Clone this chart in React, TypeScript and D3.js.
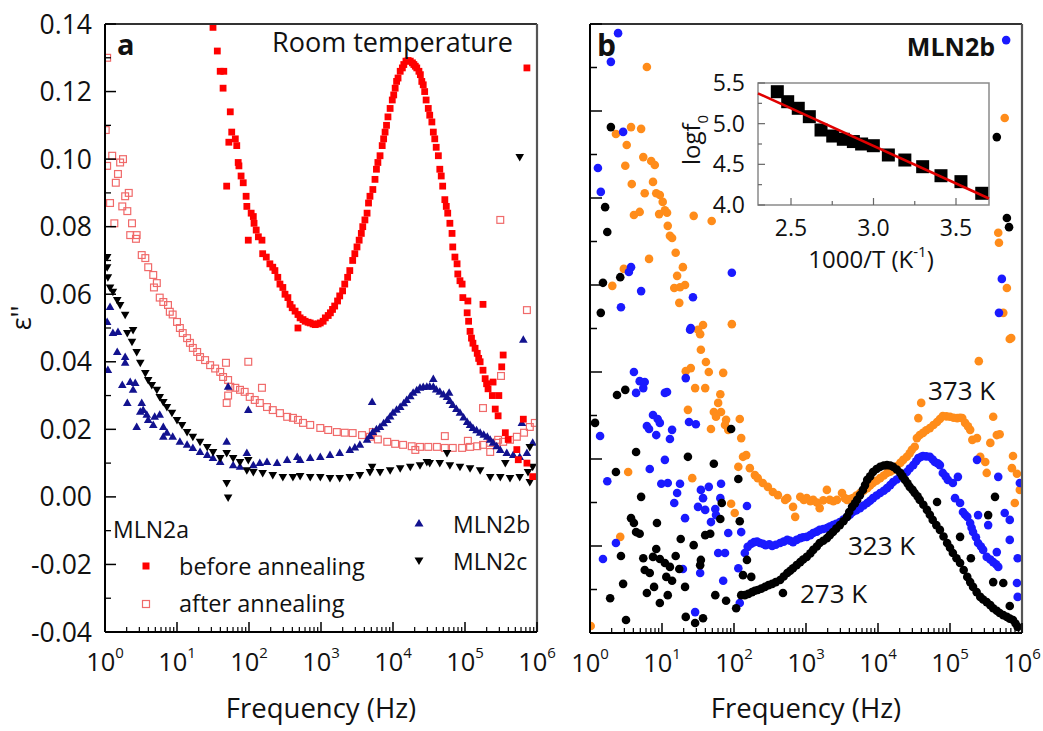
import React from "react";
import * as d3 from "d3";

// ---------- DATA (log10 frequency, value) ----------
const beforeAnnealing: [number, number][] = [
  [1.5,0.139],[1.56,0.132],[1.6,0.126],[1.65,0.126],[1.64,0.121],[1.74,0.114],[1.76,0.108],[1.72,0.105],[1.81,0.106],[1.83,0.104],[1.85,0.099],[1.86,0.098],[1.89,0.095],[1.92,0.093],[1.69,0.092],[1.96,0.089],[1.97,0.086],[2.03,0.084],[2.06,0.083],[2.07,0.081],[2.1,0.079],[2.13,0.077],[1.99,0.076],[2.18,0.076],[2.19,0.072],[2.24,0.071],[2.29,0.069],[2.33,0.068],[2.36,0.067],[2.4,0.065],[2.43,0.063],[2.47,0.062],[2.5,0.06],[2.54,0.059],[2.57,0.057],[2.6,0.056],[2.64,0.055],[2.68,0.054],[2.71,0.053],[2.75,0.0525],[2.78,0.052],[2.82,0.0517],[2.85,0.0515],[2.89,0.0512],[2.92,0.051],[2.96,0.0512],[2.99,0.0515],[3.03,0.052],[3.06,0.053],[3.1,0.0537],[3.13,0.0545],[3.16,0.0555],[3.19,0.0565],[3.23,0.058],[3.26,0.0595],[3.3,0.061],[3.33,0.063],[3.37,0.065],[3.4,0.067],[3.44,0.07],[3.47,0.072],[3.5,0.074],[3.53,0.076],[3.56,0.078],[3.58,0.08],[3.61,0.082],[3.64,0.084],[3.66,0.087],[3.68,0.089],[3.72,0.091],[3.75,0.094],[3.77,0.097],[3.79,0.099],[3.82,0.101],[3.85,0.104],[3.87,0.106],[3.89,0.108],[3.91,0.11],[3.93,0.1125],[3.96,0.115],[3.99,0.1175],[4.01,0.119],[4.03,0.121],[4.05,0.123],[4.07,0.124],[4.1,0.126],[4.13,0.127],[4.15,0.128],[4.18,0.129],[4.21,0.1292],[4.24,0.129],[4.27,0.1285],[4.29,0.128],[4.31,0.1275],[4.33,0.127],[4.36,0.126],[4.38,0.125],[4.4,0.123],[4.42,0.122],[4.44,0.12],[4.46,0.1175],[4.49,0.115],[4.51,0.113],[4.54,0.111],[4.56,0.108],[4.58,0.106],[4.6,0.1035],[4.63,0.101],[4.65,0.097],[4.67,0.095],[4.69,0.092],[4.72,0.088],[4.74,0.086],[4.76,0.084],[4.79,0.081],[4.82,0.078],[4.83,0.074],[4.86,0.071],[4.89,0.069],[4.9,0.066],[4.93,0.064],[4.96,0.063],[4.97,0.059],[5.04,0.058],[5.03,0.0545],[5.05,0.052],[5.07,0.049],[5.09,0.047],[5.11,0.0455],[5.14,0.044],[5.17,0.0425],[5.19,0.041],[5.21,0.04],[5.25,0.0375],[5.28,0.035],[5.3,0.0335],[5.32,0.032],[5.38,0.03],[5.42,0.026],[5.46,0.024],[5.25,0.057],[5.53,0.042],[5.51,0.0385],[5.47,0.03],[5.39,0.034],[5.56,0.019],[5.6,0.017],[5.72,0.014],[5.81,0.023],[5.74,0.011],[5.86,0.01],[5.94,0.006],[5.86,0.127],[2.68,0.05]
];

const afterAnnealing: [number, number][] = [
  [0.03,0.13],[0.01,0.1086],[0.1,0.101],[0.25,0.1],[0.21,0.099],[0.03,0.098],[0.18,0.0956],[0.15,0.093],[0.33,0.09],[0.28,0.089],[0.07,0.087],[0.24,0.086],[0.31,0.0846],[0.13,0.081],[0.375,0.081],[0.35,0.0775],[0.44,0.0775],[0.43,0.0764],[0.51,0.0716],[0.56,0.0707],[0.6,0.068],[0.67,0.0657],[0.72,0.0633],[0.68,0.062],[0.76,0.059],[0.81,0.0577],[0.875,0.0568],[0.9,0.0548],[0.94,0.054],[1.0,0.0518],[1.04,0.05],[1.08,0.0485],[1.14,0.047],[1.18,0.0456],[1.22,0.0441],[1.28,0.0429],[1.32,0.0414],[1.39,0.0405],[1.46,0.039],[1.53,0.038],[1.6,0.037],[1.68,0.0397],[1.99,0.04],[1.64,0.0355],[1.71,0.0346],[1.74,0.0326],[1.71,0.03],[1.69,0.0278],[1.81,0.0323],[1.875,0.0317],[1.94,0.0311],[2.18,0.0323],[2.01,0.0296],[2.08,0.0287],[2.15,0.0278],[2.25,0.0266],[2.33,0.0257],[2.43,0.0248],[2.53,0.0237],[2.61,0.0234],[2.68,0.0228],[2.75,0.0219],[2.85,0.0213],[2.99,0.0204],[3.1,0.0198],[3.22,0.0192],[3.33,0.019],[3.44,0.0189],[3.57,0.0183],[3.68,0.0178],[3.79,0.017],[3.92,0.0163],[4.03,0.0157],[4.14,0.0154],[4.26,0.015],[4.375,0.0148],[4.49,0.0148],[4.61,0.0148],[4.72,0.0145],[4.83,0.0145],[4.96,0.0145],[5.07,0.0148],[5.17,0.015],[5.25,0.0154],[5.35,0.016],[5.44,0.016],[5.53,0.0163],[5.625,0.0169],[5.72,0.0178],[5.82,0.019],[5.9,0.0207],[5.97,0.0219],[3.72,0.0192],[4.72,0.018],[5.25,0.0263],[5.5,0.0358],[5.86,0.0553],[5.49,0.082],[5.35,0.0133],[5.46,0.0169],[4.31,0.0139],[5.04,0.0166]
];

const mln2b: [number, number][] = [
  [0.07,0.0562],[0.03,0.0518],[0.04,0.0376],[0.11,0.0485],[0.18,0.0488],[0.17,0.0429],[0.28,0.0414],[0.28,0.0397],[0.24,0.0331],[0.35,0.034],[0.42,0.0337],[0.39,0.0317],[0.31,0.0278],[0.44,0.0207],[0.51,0.0278],[0.53,0.0257],[0.49,0.0252],[0.58,0.0243],[0.6,0.0228],[0.67,0.0213],[0.69,0.0237],[0.76,0.0243],[0.81,0.0207],[0.81,0.0178],[0.86,0.019],[0.94,0.0178],[1.04,0.0163],[1.14,0.0154],[1.22,0.0145],[1.32,0.0133],[1.42,0.0124],[1.5,0.0115],[1.6,0.0103],[1.69,0.0163],[1.71,0.0326],[1.99,0.0257],[1.78,0.0094],[1.875,0.0089],[1.97,0.013],[2.06,0.0094],[2.15,0.01],[2.25,0.0103],[2.39,0.01],[2.53,0.0109],[2.67,0.0118],[2.71,0.0109],[2.85,0.0115],[2.99,0.0118],[3.125,0.0124],[3.26,0.013],[3.4,0.0139],[3.47,0.0146],[3.54,0.0154],[3.64,0.0169],[3.68,0.018],[3.72,0.0192],[3.77,0.02],[3.82,0.0207],[3.87,0.0218],[3.92,0.0228],[3.96,0.0238],[4.0,0.0249],[4.05,0.0258],[4.1,0.0266],[4.15,0.0277],[4.19,0.0287],[4.24,0.0298],[4.28,0.0308],[4.33,0.0316],[4.375,0.0323],[4.42,0.0325],[4.47,0.0326],[4.51,0.0327],[4.56,0.0326],[4.56,0.0349],[4.6,0.0318],[4.65,0.0311],[4.7,0.0303],[4.75,0.0296],[4.79,0.0284],[4.83,0.0272],[4.88,0.026],[4.93,0.0249],[4.98,0.0235],[5.03,0.0222],[5.07,0.0213],[5.11,0.0204],[5.16,0.0197],[5.21,0.019],[5.26,0.0184],[5.31,0.0178],[5.35,0.0169],[5.39,0.016],[5.44,0.015],[5.49,0.0139],[5.58,0.013],[5.67,0.0124],[5.76,0.0118],[5.86,0.013],[5.94,0.016],[3.71,0.0281],[5.81,0.0465],[5.79,0.0219],[4.78,0.0308]
];

const mln2c: [number, number][] = [
  [0.03,0.071],[0.03,0.068],[0.04,0.065],[0.07,0.062],[0.11,0.0607],[0.17,0.0583],[0.21,0.0568],[0.28,0.0539],[0.31,0.0485],[0.39,0.0494],[0.375,0.0459],[0.44,0.0429],[0.49,0.0397],[0.56,0.0367],[0.6,0.0346],[0.65,0.0331],[0.72,0.0317],[0.76,0.0296],[0.81,0.0281],[0.86,0.0266],[0.93,0.0249],[1.0,0.0228],[1.07,0.0213],[1.14,0.0192],[1.22,0.0178],[1.32,0.0163],[1.42,0.0148],[1.5,0.0133],[1.6,0.0115],[1.69,0.013],[1.78,0.0115],[1.875,0.0103],[1.99,0.0109],[1.97,0.0079],[2.06,0.0074],[2.19,0.0071],[2.33,0.0065],[2.47,0.0059],[2.61,0.0059],[2.71,0.0062],[2.85,0.0059],[2.99,0.0059],[3.125,0.0056],[3.26,0.0056],[3.4,0.0059],[3.54,0.0065],[3.68,0.0074],[3.82,0.0074],[3.96,0.0079],[4.1,0.0085],[4.24,0.0089],[4.375,0.0094],[4.51,0.01],[4.65,0.01],[4.79,0.0094],[4.93,0.0089],[5.07,0.0085],[5.21,0.0079],[5.35,0.0059],[5.49,0.0059],[5.625,0.0056],[5.76,0.0059],[5.875,0.0074],[5.9,0.0044],[5.94,0.0089],[1.69,0.0041],[1.71,-0.0002],[3.71,0.0089],[4.47,0.0103],[4.75,0.013],[5.56,0.01],[5.9,0.0148],[5.76,0.1006]
];

// Right panel (MLN2b, arbitrary units 0..14)
const k273: [number, number][] = [
  [0.29,11.63],[0.21,9.79],[0.24,9.22],[0.18,8.05],[0.42,8.18],[0.15,7.36],[0.07,4.83],[0.375,5.47],[0.49,5.59],[0.64,4.16],[0.36,3.7],[0.71,3.13],[0.57,2.64],[0.61,2.53],[0.64,2.32],[0.69,2.28],[0.93,2.53],[1.36,4.05],[1.72,3.89],[1.96,4.69],[2.06,3.54],[1.83,2.99],[2.08,2.57],[1.81,2.62],[1.26,2.16],[1.44,2.02],[1.6,2.25],[1.67,2.28],[0.92,1.93],[0.43,1.77],[0.74,1.72],[0.875,1.75],[0.97,1.7],[1.04,1.61],[1.11,1.52],[1.19,1.77],[1.24,1.47],[0.76,1.45],[0.83,1.38],[1.06,1.29],[1.14,1.2],[0.89,1.06],[0.79,0.92],[0.46,1.13],[1.32,1.06],[1.08,0.87],[0.97,0.69],[0.28,0.8],[1.74,0.87],[1.89,0.74],[2.03,0.57],[2.1,0.87],[1.33,0.37],[1.46,0.23],[1.57,0.34],[0.5,0.3],[1.54,1.68],[1.53,1.56],[2.125,1.33],[2.18,1.68],[2.24,1.29],
  [2.15,0.87],[2.2,0.9],[2.25,0.94],[2.29,0.97],[2.33,0.99],[2.38,1.02],[2.43,1.06],[2.48,1.1],[2.53,1.13],[2.58,1.17],[2.64,1.22],[2.68,0.92],[2.69,1.3],[2.74,1.38],[2.78,1.43],[2.82,1.49],[2.87,1.56],[2.92,1.63],[2.96,1.69],[3.01,1.75],[3.06,1.83],[3.1,1.91],[3.15,1.99],[3.19,2.07],[3.24,2.12],[3.29,2.18],[3.33,2.25],[3.375,2.32],[3.42,2.4],[3.47,2.48],[3.52,2.57],[3.57,2.67],[3.6,2.78],[3.64,2.9],[3.68,2.98],[3.71,3.06],[3.75,3.17],[3.79,3.29],[3.82,3.4],[3.85,3.52],[3.89,3.6],[3.93,3.7],[3.98,3.77],[4.03,3.82],[4.08,3.85],[4.125,3.86],[4.17,3.85],[4.21,3.82],[4.26,3.76],[4.31,3.68],[4.34,3.6],[4.375,3.52],[4.41,3.44],[4.44,3.36],[4.48,3.29],[4.51,3.22],[4.55,3.14],[4.58,3.06],[4.63,2.95],[4.68,2.83],[4.72,2.72],[4.76,2.6],[4.81,2.48],[4.86,2.37],[4.91,2.22],[4.96,2.07],[5.0,1.96],[5.04,1.84],[5.09,1.72],[5.14,1.61],[5.19,1.45],[5.24,1.29],[5.28,1.17],[5.32,1.06],[5.37,0.94],[5.42,0.83],[5.46,0.77],[5.51,0.71],[5.56,0.64],[5.6,0.57],[5.65,0.51],[5.69,0.46],[5.74,0.41],[5.79,0.37],[5.83,0.33],[5.875,0.3],[5.91,0.22],[5.94,0.14],
  [4.82,3.01],[5.14,2.21],[5.29,1.72],[5.53,2.71],[5.625,3.13],[5.6,1.17],[5.74,1.15],[5.83,0.62],[5.65,11.4],[5.79,9.54],[5.82,9.33]
];

const k323: [number, number][] = [
  [0.39,13.79],[0.29,13.13],[0.46,11.52],[0.11,10.69],[0.15,10.14],[0.57,8.41],[0.54,8.3],[0.71,7.86],[0.43,7.49],[1.97,8.28],[1.43,7.72],[1.4,7.01],[1.39,6.97],[0.61,6.0],[0.69,5.79],[0.76,5.77],[0.74,5.63],[0.64,5.52],[1.04,5.52],[1.07,5.54],[1.33,5.86],[0.875,5.01],[0.94,4.92],[0.79,4.76],[0.82,4.69],[0.97,4.83],[1.14,4.67],[0.92,4.55],[1.11,4.46],[0.14,4.53],[1.375,4.85],[1.47,4.8],[1.04,3.98],[0.83,3.77],[0.24,3.49],[0.99,3.43],[1.08,3.45],[1.25,3.43],[1.21,3.22],[1.17,2.99],[1.32,2.64],[1.5,2.9],[1.57,3.1],[1.65,3.36],[1.54,3.29],[1.6,2.83],[1.74,2.85],[1.81,3.1],[1.82,3.43],[1.75,2.71],[1.68,2.55],[1.92,2.3],[2.1,2.32],[2.18,2.92],[0.36,2.07],[0.18,1.7],[1.29,1.47],[1.53,1.38],[1.78,1.84],[1.875,1.84],[2.15,1.84],[1.85,1.2],[2.06,1.49],[2.08,0.69],[1.46,0.48],
  [2.19,1.98],[2.24,2.05],[2.28,2.09],[2.32,2.1],[2.36,2.07],[2.4,2.05],[2.44,2.02],[2.49,2.04],[2.53,2.0],[2.58,2.03],[2.64,2.07],[2.69,2.1],[2.74,2.14],[2.78,2.12],[2.82,2.09],[2.87,2.14],[2.92,2.18],[2.96,2.2],[3.01,2.21],[3.06,2.25],[3.1,2.3],[3.15,2.33],[3.19,2.37],[3.24,2.39],[3.29,2.41],[3.33,2.45],[3.375,2.48],[3.42,2.51],[3.47,2.55],[3.52,2.61],[3.57,2.67],[3.61,2.72],[3.65,2.78],[3.7,2.82],[3.75,2.87],[3.8,2.93],[3.85,2.99],[3.89,3.04],[3.93,3.1],[3.98,3.16],[4.03,3.22],[4.08,3.27],[4.125,3.33],[4.17,3.4],[4.21,3.47],[4.26,3.53],[4.31,3.59],[4.35,3.64],[4.4,3.7],[4.44,3.78],[4.49,3.86],[4.53,3.95],[4.56,4.02],[4.6,4.05],[4.625,4.07],[4.67,4.06],[4.72,4.05],[4.76,3.99],[4.79,3.93],[4.83,3.9],[4.86,3.86],[4.9,3.68],[4.94,3.6],[4.97,3.52],[5.04,3.45],[5.11,3.59],[5.07,3.1],[5.14,2.99],[5.18,2.78],[5.21,2.72],[5.24,2.67],[5.28,2.53],[5.3,2.42],[5.32,2.32],[5.36,2.2],[5.39,2.07],[5.43,1.99],[5.46,1.91],[5.51,1.75],[5.56,1.69],[5.6,1.63],[5.64,1.58],[5.67,1.52],
  [5.375,3.98],[5.67,3.59],[5.39,2.71],[5.53,2.48],[5.76,2.76],[5.83,2.6],[5.83,2.14],[5.65,1.86],[5.94,1.72],[5.93,1.15],[5.94,0.83],[5.97,3.45],[5.78,13.63],[5.72,8.14],[5.68,7.36]
];

const k373: [number, number][] = [
  [0.79,13.01],[0.36,11.47],[0.57,11.63],[0.71,11.59],[0.51,11.22],[0.49,10.74],[0.74,10.94],[0.85,10.85],[0.9,10.76],[0.875,10.37],[0.58,10.32],[0.76,10.11],[0.92,10.11],[0.97,10.07],[1.01,9.91],[0.61,9.61],[0.69,9.68],[0.96,9.63],[1.04,9.72],[1.07,9.66],[1.44,9.59],[1.69,9.47],[1.08,9.36],[1.11,9.13],[1.14,9.08],[1.19,8.74],[0.82,8.6],[1.29,8.41],[0.47,8.37],[1.21,8.21],[0.31,7.98],[1.17,7.93],[1.25,7.95],[1.32,8.0],[1.24,7.59],[1.57,7.08],[1.5,6.97],[1.53,6.87],[1.97,7.1],[1.54,6.51],[1.61,6.23],[1.65,6.0],[1.85,5.98],[1.33,6.02],[1.4,6.09],[1.46,5.63],[1.6,5.63],[1.81,5.49],[1.78,5.29],[1.36,5.13],[1.72,5.08],[1.82,5.08],[1.75,4.97],[1.89,4.9],[2.08,4.92],[1.68,4.69],[1.875,4.78],[1.92,4.67],[2.1,4.48],[2.125,4.05],[2.17,4.09],[2.06,3.82],[2.22,3.79],[2.29,3.63],[2.33,3.56],[2.4,3.45],[2.47,3.36],[2.54,3.24],[2.61,3.17],[2.71,3.06],[0.53,3.7],[1.42,3.56],[1.96,2.97],[2.01,2.76],[0.42,2.21],[0.01,0.16],
  [2.74,3.1],[2.82,2.9],[2.85,2.67],[2.92,3.13],[2.97,3.06],[3.01,3.1],[3.06,3.03],[3.1,3.06],[3.15,3.0],[3.19,2.87],[3.24,3.05],[3.29,3.29],[3.33,3.06],[3.38,3.03],[3.43,3.06],[3.5,3.22],[3.54,3.1],[3.57,3.06],[3.61,3.08],[3.65,3.1],[3.7,3.16],[3.75,3.22],[3.8,3.27],[3.85,3.33],[3.89,3.39],[3.93,3.45],[3.98,3.5],[4.03,3.56],[4.08,3.62],[4.125,3.68],[4.17,3.71],[4.21,3.75],[4.26,3.83],[4.31,3.91],[4.35,3.98],[4.4,4.05],[4.44,4.13],[4.47,4.21],[4.51,4.28],[4.54,4.48],[4.58,4.55],[4.625,4.6],[4.67,4.66],[4.72,4.71],[4.77,4.78],[4.82,4.85],[4.86,4.92],[4.9,4.99],[4.95,4.98],[5.0,4.97],[5.05,4.95],[5.1,4.94],[5.14,4.95],[5.17,4.94],[5.21,4.83],[5.25,4.75],[5.28,4.67],[5.31,4.44],[5.375,4.48],[4.56,4.94],[4.6,5.29],
  [5.42,4.05],[5.49,3.93],[5.51,3.68],[5.56,4.37],[5.6,4.97],[5.65,4.55],[5.69,4.57],[5.86,3.79],[5.875,4.07],[5.93,3.66],[5.97,3.29],[5.9,2.99],[5.4,6.25],[5.83,6.76],[5.76,11.84],[5.67,9.2],[5.68,8.97],[5.79,7.93],[5.74,7.36],[5.85,6.78]
];

// Inset: 1000/T vs log f0
const insetPoints: [number, number][] = [
  [2.417,5.393],[2.48,5.27],[2.544,5.189],[2.611,5.086],[2.682,4.922],[2.753,4.848],[2.817,4.808],[2.878,4.78],[2.928,4.75],[2.999,4.729],[3.09,4.615],[3.19,4.553],[3.298,4.471],[3.409,4.36],[3.53,4.287],[3.656,4.144]
];
const fitLine: [number, number][] = [[2.3, 5.373], [3.7, 4.08]];

const leftYTicks = [-0.04, -0.02, 0.0, 0.02, 0.04, 0.06, 0.08, 0.1, 0.12, 0.14];
const decades = [0, 1, 2, 3, 4, 5, 6];
const insetXTicks = [2.5, 3.0, 3.5];
const insetYTicks = [4.0, 4.5, 5.0, 5.5];

// ---------- LAYOUT ----------
const W = 1043, H = 731;
const FONT = "'Open Sans', 'DejaVu Sans', sans-serif";
const L = { x0: 105, x1: 537, y0: 24, y1: 632 };
const R = { x0: 590, x1: 1022, y0: 24, y1: 633 };
const I = { x0: 758, x1: 989, y0: 83, y1: 205 };

const COL = {
  red: "#ff0000",
  pink: "#f06a6a",
  navy: "#12128f",
  black: "#000000",
  blue: "#1a1aff",
  orange: "#ff8c1a",
};

function LogXAxis({ x, y, xlo, xhi }: { x: d3.ScaleLogarithmic<number, number>; y: number; xlo: number; xhi: number }) {
  const minors: number[] = [];
  for (let d = 0; d < 6; d++) for (let m = 2; m <= 9; m++) minors.push(m * Math.pow(10, d));
  return (
    <g>
      <line x1={xlo} x2={xhi} y1={y} y2={y} stroke="#000" strokeWidth={2} />
      {minors.map((v, i) => (
        <line key={"m" + i} x1={x(v)} x2={x(v)} y1={y} y2={y - 5} stroke="#000" strokeWidth={1.2} />
      ))}
      {decades.map((d) => (
        <line key={"M" + d} x1={x(Math.pow(10, d))} x2={x(Math.pow(10, d))} y1={y} y2={y - 10} stroke="#000" strokeWidth={1.5} />
      ))}
      {decades.map((d) => (
        <text key={"t" + d} x={x(Math.pow(10, d))} y={y + 39} textAnchor="middle" fontSize={25.5} fontFamily={FONT} fill="#111">
          <tspan>10</tspan>
          <tspan fontSize={15} dy={-13}>{d}</tspan>
        </text>
      ))}
    </g>
  );
}

function Markers({ data, x, y, kind, color }: { data: [number, number][]; x: any; y: any; kind: string; color: string }) {
  return (
    <g>
      {data.map(([lf, v], i) => {
        const cx = x(Math.pow(10, lf));
        const cy = y(v);
        if (kind === "sq") return <rect key={i} x={cx - 3.4} y={cy - 3.4} width={6.8} height={6.8} fill={color} />;
        if (kind === "osq") return <rect key={i} x={cx - 3.4} y={cy - 3.4} width={6.8} height={6.8} fill="none" stroke={color} strokeWidth={1.2} />;
        if (kind === "up") return <path key={i} d={`M${cx},${cy - 4.5}L${cx + 4.3},${cy + 3}L${cx - 4.3},${cy + 3}Z`} fill={color} />;
        if (kind === "down") return <path key={i} d={`M${cx},${cy + 4.5}L${cx + 4.3},${cy - 3}L${cx - 4.3},${cy - 3}Z`} fill={color} />;
        return <circle key={i} cx={cx} cy={cy} r={4.3} fill={color} />;
      })}
    </g>
  );
}

export default function App() {
  const xL = d3.scaleLog().domain([1, 1e6]).range([L.x0, L.x1]);
  const yL = d3.scaleLinear().domain([-0.04, 0.14]).range([L.y1, L.y0]);
  const xR = d3.scaleLog().domain([1, 1e6]).range([R.x0, R.x1]);
  const yR = d3.scaleLinear().domain([0, 14]).range([R.y1, R.y0]);
  const xI = d3.scaleLinear().domain([2.3, 3.7]).range([I.x0, I.x1]);
  const yI = d3.scaleLinear().domain([4.0, 5.5]).range([I.y1, I.y0]);

  const leftMinor = d3.range(-0.03, 0.14, 0.02);
  const rightTicks = d3.range(0, 15, 1);
  const fitPath = d3.line<[number, number]>().x((d) => xI(d[0])).y((d) => yI(d[1]))(fitLine) || "";

  return (
    <svg width={W} height={H} style={{ position: "absolute", left: 0, top: 0, background: "#fff" }} fontFamily={FONT}>
      <defs>
        <clipPath id="clipL"><rect x={L.x0} y={L.y0} width={L.x1 - L.x0} height={L.y1 - L.y0} /></clipPath>
        <clipPath id="clipR"><rect x={R.x0} y={R.y0} width={R.x1 - R.x0} height={R.y1 - R.y0} /></clipPath>
      </defs>

      {/* ---------- LEFT PANEL ---------- */}
      <g clipPath="url(#clipL)">
        <Markers data={afterAnnealing} x={xL} y={yL} kind="osq" color={COL.pink} />
        <Markers data={mln2b} x={xL} y={yL} kind="up" color={COL.navy} />
        <Markers data={mln2c} x={xL} y={yL} kind="down" color={COL.black} />
        <Markers data={beforeAnnealing} x={xL} y={yL} kind="sq" color={COL.red} />
      </g>
      <line x1={L.x0} x2={L.x1} y1={L.y0} y2={L.y0} stroke="#333" strokeWidth={2} />
      <line x1={L.x1} x2={L.x1} y1={L.y0} y2={L.y1} stroke="#555" strokeWidth={2.2} />
      <line x1={L.x0} x2={L.x0} y1={L.y0} y2={L.y1} stroke="#000" strokeWidth={2} />
      {leftYTicks.map((t) => (
        <g key={"ly" + t}>
          <line x1={L.x0} x2={L.x0 + 11} y1={yL(t)} y2={yL(t)} stroke="#000" strokeWidth={1.5} />
          <text x={92} y={yL(t) + 9.5} textAnchor="end" fontSize={26.5} fill="#111">{t.toFixed(2)}</text>
        </g>
      ))}
      {leftMinor.map((t) => (
        <line key={"lm" + t} x1={L.x0} x2={L.x0 + 6} y1={yL(t)} y2={yL(t)} stroke="#000" strokeWidth={1.3} />
      ))}
      <LogXAxis x={xL} y={L.y1} xlo={L.x0} xhi={L.x1} />
      <text transform={`translate(31,${318}) rotate(-90)`} textAnchor="middle" fontSize={27} fill="#111">ε''</text>
      <text x={(L.x0 + L.x1) / 2} y={718} textAnchor="middle" fontSize={27.5} fill="#111">Frequency (Hz)</text>
      <text x={117} y={55} fontSize={29} fontWeight="bold" fill="#111">a</text>
      <text x={272} y={52} fontSize={27} fill="#111">Room temperature</text>

      {/* legend */}
      <text x={113} y={538} fontSize={23} fill="#111">MLN2a</text>
      <rect x={142.5} y={562.5} width={7} height={7} fill={COL.red} />
      <text x={179} y={575} fontSize={23.5} fill="#111">before annealing</text>
      <rect x={142.5} y={600.5} width={7} height={7} fill="none" stroke={COL.pink} strokeWidth={1.2} />
      <text x={179} y={612} fontSize={23.5} fill="#111">after annealing</text>
      <path d={`M${419},${519}L${423.5},${526.5}L${414.5},${526.5}Z`} fill={COL.navy} />
      <text x={453} y={533} fontSize={23} fill="#111">MLN2b</text>
      <path d={`M${419},${565}L${423.5},${557.5}L${414.5},${557.5}Z`} fill={COL.black} />
      <text x={453} y={570} fontSize={23} fill="#111">MLN2c</text>

      {/* ---------- RIGHT PANEL ---------- */}
      <g clipPath="url(#clipR)">
        <Markers data={k373} x={xR} y={yR} kind="c" color={COL.orange} />
        <Markers data={k323} x={xR} y={yR} kind="c" color={COL.blue} />
        <Markers data={k273} x={xR} y={yR} kind="c" color={COL.black} />
      </g>
      <line x1={R.x0} x2={R.x1} y1={R.y0} y2={R.y0} stroke="#333" strokeWidth={2} />
      <line x1={R.x1} x2={R.x1} y1={R.y0} y2={R.y1} stroke="#555" strokeWidth={2.2} />
      <line x1={R.x0} x2={R.x0} y1={R.y0} y2={R.y1} stroke="#000" strokeWidth={2} />
      {rightTicks.map((t) => (
        <line key={"ry" + t} x1={R.x0} x2={R.x0 + (t % 2 === 0 ? 12 : 7)} y1={yR(t)} y2={yR(t)} stroke="#000" strokeWidth={1.5} />
      ))}
      <LogXAxis x={xR} y={R.y1} xlo={R.x0} xhi={R.x1} />
      <text x={(R.x0 + R.x1) / 2} y={718} textAnchor="middle" fontSize={27.5} fill="#111">Frequency (Hz)</text>
      <text x={597} y={56} fontSize={30} fontWeight="bold" fill="#111">b</text>
      <text x={995} y={56} textAnchor="end" fontSize={25} fontWeight="bold" fill="#111">MLN2b</text>
      <text x={928} y={400} fontSize={26} fill="#111">373 K</text>
      <text x={848} y={555} fontSize={26} fill="#111">323 K</text>
      <text x={800} y={603} fontSize={26} fill="#111">273 K</text>

      {/* ---------- INSET ---------- */}
      <rect x={I.x0} y={I.y0} width={I.x1 - I.x0} height={I.y1 - I.y0} fill="#fff" stroke="#8a8a8a" strokeWidth={1.5} />
      {insetXTicks.map((t) => (
        <g key={"ix" + t}>
          <line x1={xI(t)} x2={xI(t)} y1={I.y1} y2={I.y1 - 7} stroke="#666" strokeWidth={1.2} />
          <text x={xI(t)} y={I.y1 + 31} textAnchor="middle" fontSize={23} fill="#111">{t.toFixed(1)}</text>
        </g>
      ))}
      {[2.75, 3.25].map((t) => (
        <line key={"ixm" + t} x1={xI(t)} x2={xI(t)} y1={I.y1} y2={I.y1 - 4} stroke="#666" strokeWidth={1.2} />
      ))}
      {insetYTicks.map((t) => (
        <g key={"iy" + t}>
          <line x1={I.x0} x2={I.x0 + 7} y1={yI(t)} y2={yI(t)} stroke="#666" strokeWidth={1.2} />
          <text x={745} y={yI(t) + 8} textAnchor="end" fontSize={23} fill="#111">{t.toFixed(1)}</text>
        </g>
      ))}
      {[4.25, 4.75, 5.25].map((t) => (
        <line key={"iym" + t} x1={I.x0} x2={I.x0 + 4} y1={yI(t)} y2={yI(t)} stroke="#666" strokeWidth={1.2} />
      ))}
      {insetPoints.map(([a, b], i) => (
        <rect key={"ip" + i} x={xI(a) - 6.5} y={yI(b) - 6.5} width={13} height={13} fill="#000" />
      ))}
      <path d={fitPath} stroke="#e00000" strokeWidth={2.5} fill="none" />
      <text x={871} y={268} textAnchor="middle" fontSize={24} fill="#111">
        <tspan>1000/T (K</tspan>
        <tspan fontSize={15} dy={-11}>-1</tspan>
        <tspan dy={11}>)</tspan>
      </text>
      <text transform={`translate(700,140) rotate(-90)`} textAnchor="middle" fontSize={24} fill="#111">
        <tspan>logf</tspan>
        <tspan fontSize={15} dy={8}>0</tspan>
      </text>
    </svg>
  );
}
